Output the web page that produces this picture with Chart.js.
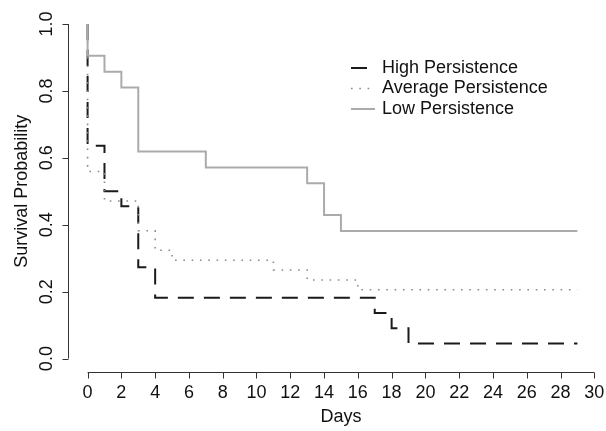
<!DOCTYPE html>
<html lang="en">
<head>
    <meta charset="UTF-8">
    <title>Survival Probability by Persistence</title>
    <script src="https://cdn.jsdelivr.net/npm/chart.js"></script>
    <style>
        body { margin: 0; background: #fff; }
        #wrap { width: 606px; height: 431px; }
    </style>
</head>
<body>
    <div id="wrap">
        <canvas id="survChart" width="606" height="431"></canvas>
    </div>

    <script>
        // Kaplan-Meier steps (time in days, survival)
        const seriesNames = ['High Persistence', 'Average Persistence', 'Low Persistence'];

        const highTimes = [0, 0, 1, 2, 3, 4, 17, 18, 19, 29];
        const highSurv  = [1, 0.636, 0.5, 0.455, 0.273, 0.182, 0.136, 0.091, 0.045, 0.045];

        const avgTimes = [0, 0, 1, 3, 4, 5, 11, 13, 16, 29];
        const avgSurv  = [1, 0.559, 0.471, 0.382, 0.324, 0.294, 0.265, 0.235, 0.206, 0.206];

        const lowTimes = [0, 0, 1, 2, 3, 7, 13, 14, 15, 29];
        const lowSurv  = [1, 0.905, 0.857, 0.810, 0.619, 0.571, 0.524, 0.429, 0.381, 0.381];

        const xTicks = [0, 2, 4, 6, 8, 10, 12, 14, 16, 18, 20, 22, 24, 26, 28, 30];
        const yTicks = [0, 0.2, 0.4, 0.6, 0.8, 1.0];

        const font = '"Liberation Sans", Arial, Helvetica, sans-serif';

        const toPoints = (ts, vs) => ts.map((t, i) => ({ x: t, y: vs[i] }));

        // R-style detached axes, drawn from the chart's own scales
        const rAxes = {
            id: 'rAxes',
            afterDraw(chart) {
                const { ctx, chartArea, scales: { x, y } } = chart;
                ctx.save();
                ctx.strokeStyle = '#333';
                ctx.fillStyle = '#111';
                ctx.lineWidth = 1;
                ctx.font = '18px ' + font;

                // x axis
                const ay = Math.round(chartArea.bottom) + 0.5;
                const x0 = x.getPixelForValue(xTicks[0]);
                const x1 = x.getPixelForValue(xTicks[xTicks.length - 1]);
                ctx.beginPath();
                ctx.moveTo(x0, ay);
                ctx.lineTo(x1, ay);
                xTicks.forEach(t => {
                    const px = Math.round(x.getPixelForValue(t)) + 0.5;
                    ctx.moveTo(px, ay);
                    ctx.lineTo(px, ay + 6);
                });
                ctx.stroke();
                ctx.textAlign = 'center';
                ctx.textBaseline = 'alphabetic';
                xTicks.forEach(t => {
                    ctx.fillText(String(t), x.getPixelForValue(t), 398);
                });
                ctx.fillText('Days', (x0 + x1) / 2, 422);

                // y axis
                const ax = Math.round(chartArea.left) + 0.5;
                const y0 = y.getPixelForValue(yTicks[0]);
                const y1 = y.getPixelForValue(yTicks[yTicks.length - 1]);
                ctx.beginPath();
                ctx.moveTo(ax, y0);
                ctx.lineTo(ax, y1);
                yTicks.forEach(v => {
                    const py = Math.round(y.getPixelForValue(v)) + 0.5;
                    ctx.moveTo(ax, py);
                    ctx.lineTo(ax - 6, py);
                });
                ctx.stroke();
                yTicks.forEach(v => {
                    ctx.save();
                    ctx.translate(52, y.getPixelForValue(v));
                    ctx.rotate(-Math.PI / 2);
                    ctx.fillText(v.toFixed(1), 0, 0);
                    ctx.restore();
                });
                ctx.save();
                ctx.translate(27, (y0 + y1) / 2);
                ctx.rotate(-Math.PI / 2);
                ctx.fillText('Survival Probability', 0, 0);
                ctx.restore();

                ctx.restore();
            }
        };

        // legend in the upper right, R style
        const rLegend = {
            id: 'rLegend',
            afterDraw(chart) {
                const { ctx } = chart;
                ctx.save();
                ctx.font = '18px ' + font;
                ctx.textAlign = 'left';
                ctx.textBaseline = 'middle';
                chart.data.datasets.forEach((ds, i) => {
                    const ly = 68 + i * 20.5;
                    ctx.beginPath();
                    ctx.strokeStyle = ds.borderColor;
                    ctx.lineWidth = ds.borderWidth;
                    ctx.setLineDash(ds.borderDash || []);
                    ctx.moveTo(351, ly);
                    ctx.lineTo(375, ly);
                    ctx.stroke();
                    ctx.setLineDash([]);
                    ctx.fillStyle = '#111';
                    ctx.fillText(ds.label, 382, ly);
                });
                ctx.restore();
            }
        };

        new Chart(document.getElementById('survChart'), {
            type: 'line',
            data: {
                datasets: [{
                    label: seriesNames[0],
                    data: toPoints(highTimes, highSurv),
                    borderColor: '#1a1a1a',
                    borderWidth: 2,
                    borderDash: [16, 10],
                    stepped: 'before',
                    pointRadius: 0,
                    fill: false,
                    order: 2
                }, {
                    label: seriesNames[1],
                    data: toPoints(avgTimes, avgSurv),
                    borderColor: '#8a8a8a',
                    borderWidth: 1.6,
                    borderDash: [1.6, 6.7],
                    stepped: 'before',
                    pointRadius: 0,
                    fill: false,
                    order: 1
                }, {
                    label: seriesNames[2],
                    data: toPoints(lowTimes, lowSurv),
                    borderColor: '#ababab',
                    borderWidth: 2,
                    stepped: 'before',
                    pointRadius: 0,
                    fill: false,
                    order: 0
                }]
            },
            options: {
                responsive: false,
                animation: false,
                layout: { padding: { left: 68, right: 9, top: 10.6, bottom: 59 } },
                scales: {
                    x: { type: 'linear', min: -1.16, max: 30.16, display: false },
                    y: { type: 'linear', min: -0.04, max: 1.04, display: false }
                },
                plugins: {
                    legend: { display: false },
                    tooltip: { enabled: false }
                }
            },
            plugins: [rAxes, rLegend]
        });
    </script>
</body>
</html>
